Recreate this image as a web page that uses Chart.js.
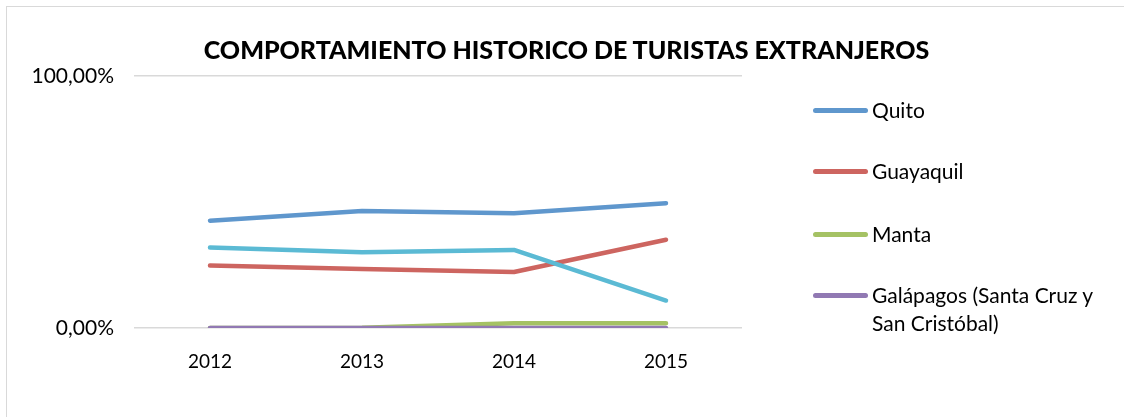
<!DOCTYPE html>
<html>
<head>
<meta charset="utf-8">
<script src="https://cdn.jsdelivr.net/npm/chart.js@4/dist/chart.umd.min.js"></script>
<style>
  html, body { margin: 0; padding: 0; background: #fff; }
  #wrap { position: relative; width: 1124px; height: 417px; overflow: hidden; font-family: Lato, "Open Sans", sans-serif; }
  #frame { position: absolute; left: 6px; top: 6px; width: 1200px; height: 500px; border-left: 1.5px solid #d9d9d9; border-top: 1.5px solid #d9d9d9; }
  #title { position: absolute; left: 0; width: 1133px; top: 34px; text-align: center; font-weight: 900; font-size: 25px; color: #000; white-space: nowrap; }
  #chartBox { position: absolute; left: 0; top: 0; width: 1124px; height: 417px; }
  #legend { position: absolute; left: 813px; top: 0; }
  .leg { position: absolute; left: 0; white-space: nowrap; font-size: 21px; color: #000; line-height: 28px; }
  .leg .sw { position: absolute; left: 0; top: 0; width: 55px; height: 4.5px; border-radius: 3px; }
  .leg .tx { position: absolute; left: 59px; top: 0; }
</style>
</head>
<body>
<div id="wrap">
  <div id="frame"></div>
  <div id="chartBox"><canvas id="c" width="1124" height="417"></canvas></div>
  <div id="title">COMPORTAMIENTO HISTORICO DE TURISTAS EXTRANJEROS</div>
  <div id="legend"></div>
</div>
<script>
(function() {
  'use strict';

  var years = ['2012', '2013', '2014', '2015'];
  var quito = [42.6, 46.4, 45.5, 49.5];
  var guayaquil = [24.8, 23.4, 22.2, 35.0];
  var manta = [0, 0.1, 1.9, 1.9];
  var galapagos = [0, 0, 0, 0];
  var otros = [31.9, 30.1, 31.0, 10.9];
  var yTicks = [0, 100];

  var series = [
    { label: 'Quito', data: quito, color: '#5f97cd', order: 5, legendY: 110 },
    { label: 'Guayaquil', data: guayaquil, color: '#cd6560', order: 4, legendY: 171 },
    { label: 'Manta', data: manta, color: '#a5c264', order: 3, legendY: 234 },
    { label: ['Galápagos (Santa Cruz y', 'San Cristóbal)'], data: galapagos, color: '#9179b3', order: 2, legendY: 295 },
    { label: 'Otros', data: otros, color: '#5bbad4', order: 1, legendY: null }
  ];

  var datasets = series.map(function(s) {
    return {
      label: Array.isArray(s.label) ? s.label.join(' ') : s.label,
      data: s.data,
      borderColor: s.color,
      backgroundColor: s.color,
      borderWidth: 4.5,
      borderCapStyle: 'round',
      borderJoinStyle: 'round',
      pointRadius: 0,
      tension: 0,
      order: s.order
    };
  });

  new Chart(document.getElementById('c'), {
    type: 'line',
    data: { labels: years, datasets: datasets },
    options: {
      responsive: false,
      animation: false,
      layout: { padding: { top: 76, right: 382, bottom: 0, left: 0 } },
      plugins: {
        legend: { display: false },
        title: { display: false },
        tooltip: { enabled: false }
      },
      scales: {
        x: {
          offset: true,
          grid: { display: false },
          border: { display: false },
          ticks: { color: '#000', font: { family: 'Lato', size: 19 }, padding: 14, maxRotation: 0 },
          afterFit: function(scale) { scale.height = 89; }
        },
        y: {
          min: 0,
          max: 100,
          afterBuildTicks: function(scale) {
            scale.ticks = yTicks.map(function(v) { return { value: v }; });
          },
          grid: { color: '#d9d9d9', lineWidth: 1.5, drawTicks: false },
          border: { display: false },
          ticks: {
            color: '#000',
            font: { family: 'Lato', size: 21 },
            padding: 20,
            callback: function(v) { return v.toFixed(2).replace('.', ',') + '%'; }
          },
          afterFit: function(scale) { scale.width = 134; }
        }
      }
    }
  });

  var legend = document.getElementById('legend');
  series.forEach(function(s) {
    if (s.legendY === null) return;
    var lines = Array.isArray(s.label) ? s.label : [s.label];
    var item = document.createElement('div');
    item.className = 'leg';
    item.style.top = (s.legendY - 14) + 'px';
    item.innerHTML = '<div class="sw" style="top:12px;background:' + s.color + '"></div>' +
      '<div class="tx">' + lines.join('<br>') + '</div>';
    legend.appendChild(item);
  });
})();
</script>
</body>
</html>
